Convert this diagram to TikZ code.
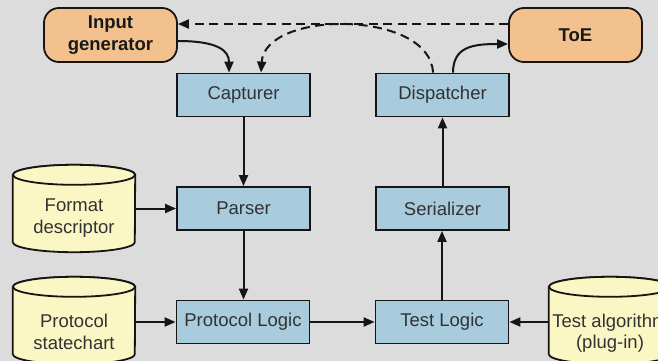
\documentclass[tikz,border=0pt]{standalone}
\usepackage{fontspec}
\setmainfont{Liberation Sans}
\usetikzlibrary{arrows.meta,calc}
\definecolor{bgc}{RGB}{220,220,220}
\definecolor{boxblue}{RGB}{168,204,221}
\definecolor{termorange}{RGB}{242,193,142}
\definecolor{cylyellow}{RGB}{251,247,197}
\definecolor{txt}{RGB}{50,50,50}
\definecolor{linec}{RGB}{25,20,20}
\newcommand\mycyl[1]{%
  \draw[cyl] (#1.north west) -- (#1.south west)
    arc[start angle=180,end angle=360,x radius=61pt,y radius=10pt]
    -- (#1.north east)
    arc[start angle=0,end angle=180,x radius=61pt,y radius=10pt] -- cycle;
  \draw[cyl] (#1.north) ellipse[x radius=61pt,y radius=10pt];}
\begin{document}
\begin{tikzpicture}[x=1pt,y=-1pt,
  font=\fontsize{18.5}{21.5}\selectfont,
  box/.style={draw=linec, line width=1.8pt, fill=boxblue, minimum width=133pt,
    minimum height=43pt, inner sep=0pt, text=txt},
  term/.style={draw=linec, line width=1.8pt, fill=termorange, rounded corners=15pt,
    minimum width=133pt, minimum height=54pt, inner sep=0pt,
    font=\fontsize{18.5}{21.5}\selectfont\bfseries, align=center, text=black!90},
  cylbody/.style={minimum width=122pt, minimum height=67pt, inner sep=0pt},
  cyl/.style={draw=linec, line width=1.8pt, fill=cylyellow},
  lab/.style={align=center, text=txt, inner sep=0pt},
  conn/.style={line width=2pt, draw=linec, -{Triangle[length=11pt,width=9pt]}},
  dconn/.style={conn, dash pattern=on 9pt off 5.5pt}]
\useasboundingbox (0,0) rectangle (658,361);
\fill[bgc] (0,0) rectangle (658,361);
\clip (0,0) rectangle (658,361);

% cylinder bodies
\node[cylbody] (fd) at (74,208.5) {};
\node[cylbody] (ps) at (74,320.5) {};
\node[cylbody] (ta) at (610,320.5) {};
\mycyl{fd}
\mycyl{ps}
\mycyl{ta}
\node[lab] (fdl) at (74,218) {Format\\descriptor};
\node[lab] (psl) at (74,332) {Protocol\\statechart};
\node[lab] (tal) at (610,333) {Test algorithm\\(plug-in)};

% terminals
\node[term] (ig) at (110.5,35) {Input\\generator};
\node[term] (toe) at (575.5,35) {ToE};

% boxes
\node[box] (cap) at (243.5,95) {Capturer};
\node[box] (dis) at (442.5,95) {Dispatcher};
\node[box] (par) at (243.5,208.5) {Parser};
\node[box] (ser) at (442.5,208.5) {Serializer};
\node[box] (pl) at (243,322) {Protocol Logic};
\node[box] (tl) at (442,322) {Test Logic};

% connectors
\draw[conn] (cap.south) -- (par.north);
\draw[conn] (par.south) -- (par.south |- pl.north);
\draw[conn] (pl.east) -- (tl.west);
\draw[conn] (tl.north) -- (tl.north |- ser.south);
\draw[conn] (ser.north) -- (dis.south);
\draw[conn] (fd.east) -- (par.west);
\draw[conn] (ps.east |- pl.west) -- (pl.west);
\draw[conn] (ta.west |- tl.east) -- (tl.east);

\draw[conn] ([yshift=-6pt]ig.east) .. controls +(40,0) and +(0,-22) .. ([xshift=-14.5pt]cap.north);
\draw[dconn] ([yshift=11pt]toe.west) -- ([yshift=11pt]ig.east);
\draw[dconn] ([xshift=-9.5pt]dis.north) .. controls +(-3,-63) and +(4,-63) .. ([xshift=17.5pt]cap.north);
\draw[conn] ([xshift=10.5pt]dis.north) .. controls +(0,-26) and +(-35,0) .. ([yshift=-9pt]toe.west);
\end{tikzpicture}
\end{document}
